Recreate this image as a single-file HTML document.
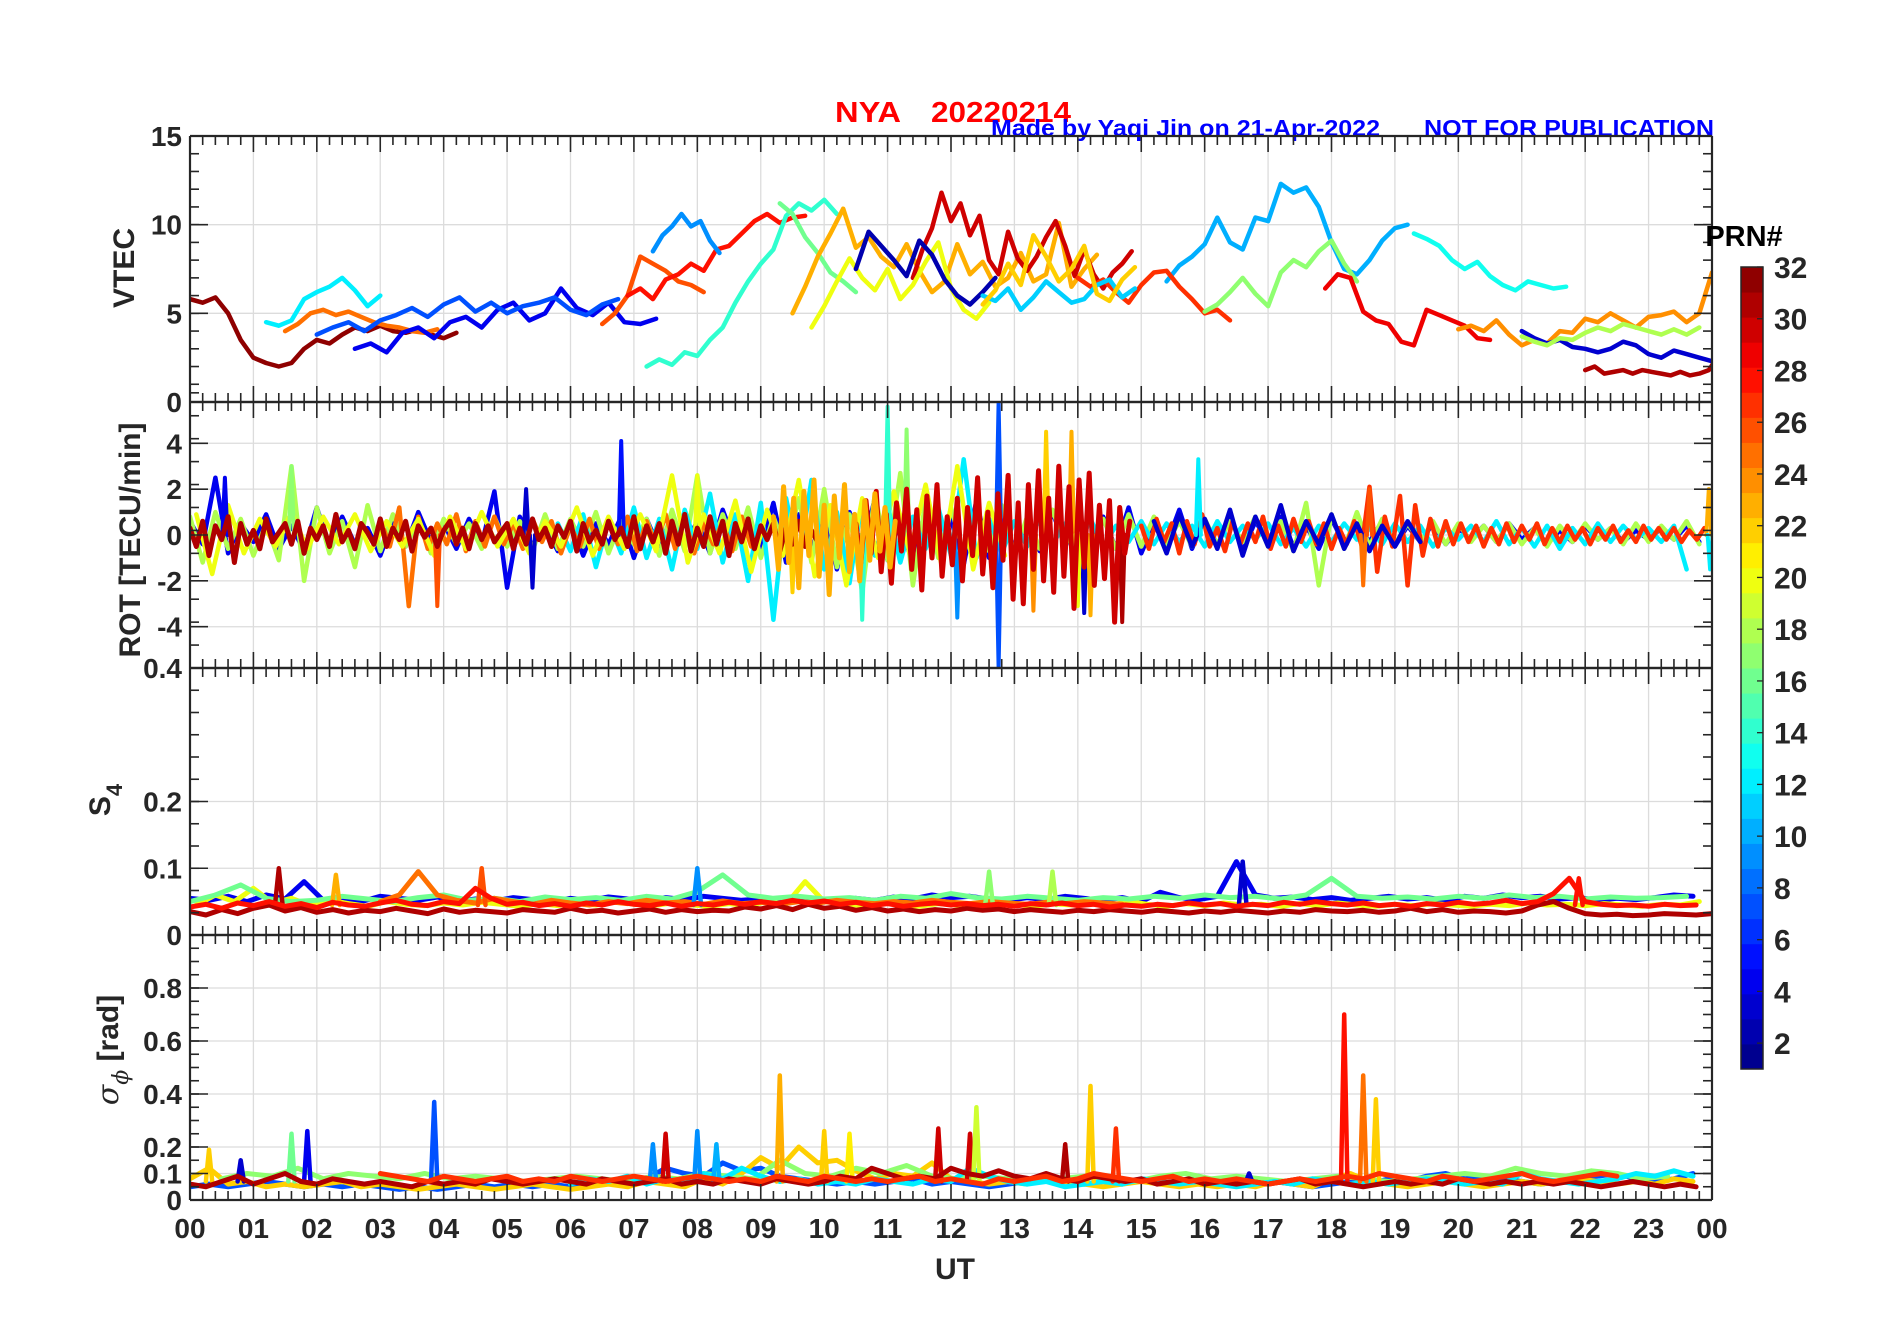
<!DOCTYPE html>
<html><head><meta charset="utf-8"><style>
html,body{margin:0;padding:0;background:#fff;}
svg{display:block;font-family:"Liberation Sans",Arial,sans-serif;}
</style></head><body>
<svg id="fig" width="1902" height="1330" viewBox="0 0 1902 1330" xmlns="http://www.w3.org/2000/svg">
<rect width="1902" height="1330" fill="#fff"/>
<text x="835" y="122" fill="#ff0000" font-size="29" font-weight="bold" textLength="66" lengthAdjust="spacingAndGlyphs">NYA</text>
<text x="931" y="122" fill="#ff0000" font-size="29" font-weight="bold" textLength="140" lengthAdjust="spacingAndGlyphs">20220214</text>
<text x="991" y="136" fill="#0000ff" font-size="23" font-weight="bold" textLength="389" lengthAdjust="spacingAndGlyphs">Made by Yaqi Jin on 21-Apr-2022</text>
<text x="1424" y="136" fill="#0000ff" font-size="23" font-weight="bold" textLength="290" lengthAdjust="spacingAndGlyphs">NOT FOR PUBLICATION</text>
<g id="plots"></g>
<text x="955" y="1279" font-size="30" font-weight="bold" fill="#262626" text-anchor="middle">UT</text>
<text x="1744" y="246" font-size="29" font-weight="bold" fill="#000" text-anchor="middle">PRN#</text>
<g id="cbar"></g>
</svg>
<script>
// ---------- DATA ----------
const hourLabels=["00","01","02","03","04","05","06","07","08","09","10","11","12","13","14","15","16","17","18","19","20","21","22","23","00"];
const prnTicks=[2,4,6,8,10,12,14,16,18,20,22,24,26,28,30,32];
const vtecPrn=[32,12,25,4,26,28,9,14,16,23,30,10,27,17,29,13,24,3,18,31,7,20,2,11,22];
const vtecStart=[0,1.2,1.5,2.6,6.5,6.9,7.3,7.2,9.3,9.5,11.4,15.4,14.0,16.0,17.9,19.3,20.0,21.0,21.0,22.0,2.0,9.8,10.5,12.5,12.5];
const vtecStep=[0.2,0.2,0.2,0.25,0.2,0.2,0.15,0.2,0.2,0.2,0.15,0.2,0.2,0.2,0.2,0.2,0.2,0.2,0.2,0.15,0.25,0.2,0.2,0.2,0.2];
const vtecVals=[
[5.8,5.6,5.9,5.0,3.5,2.5,2.2,2.0,2.2,3.0,3.5,3.3,3.8,4.2,4.0,4.3,4.0,3.9,4.1,3.8,3.6,3.9],
[4.5,4.3,4.6,5.8,6.2,6.5,7.0,6.3,5.4,6.0],
[4.0,4.4,5.0,5.2,4.9,5.1,4.8,4.5,4.3,4.2,4.0,3.9,4.1],
[3.0,3.3,2.8,3.9,4.2,3.6,4.5,4.8,4.2,5.2,5.6,4.6,5.0,6.4,5.3,4.9,5.6,4.5,4.4,4.7],
[4.4,5.0,6.0,8.2,7.8,7.4,6.8,6.6,6.2],
[6.0,6.4,5.8,6.9,7.2,7.8,7.4,8.6,8.8,9.5,10.2,10.6,10.1,10.4,10.5],
[8.5,9.4,9.9,10.6,9.9,10.2,9.1,8.4],
[2.0,2.4,2.1,2.8,2.6,3.5,4.2,5.6,6.8,7.8,8.6,10.5,11.2,10.8,11.4,10.6],
[11.2,10.6,9.3,8.4,7.3,6.8,6.2],
[5.0,6.5,8.2,9.5,10.9,8.7,9.3,8.2,7.6,8.9,7.4,6.2,6.8,8.9,7.2,7.9,6.5,7.0,8.4,6.8,7.2,10.1,6.5,7.5,8.3],
[7.0,8.6,9.8,11.8,10.2,11.2,9.4,10.5,8.0,7.2,9.6,8.1,7.4,8.2,9.3,10.2,8.8,7.1,8.6,7.2,6.4,7.3,7.8,8.5],
[6.8,7.7,8.2,8.9,10.4,9.0,8.6,10.4,10.2,12.3,11.8,12.1,11.0,9.0,7.5,7.2,8.0,9.1,9.8,10.0],
[7.0,6.5,6.9,6.2,5.6,6.6,7.3,7.4,6.5,5.8,5.0,5.2,4.6],
[5.1,5.5,6.2,7.0,6.1,5.4,7.3,8.0,7.6,8.5,9.1,7.8,6.8],
[6.4,7.2,7.0,5.1,4.6,4.4,3.4,3.2,5.2,4.9,4.6,4.3,3.6,3.5],
[9.5,9.2,8.8,8.0,7.5,7.9,7.1,6.6,6.3,6.8,6.6,6.4,6.5],
[4.1,4.3,4.0,4.6,3.8,3.2,3.5,3.3,4.0,3.9,4.7,4.5,5.0,4.6,4.2,4.8,4.9,5.1,4.5,5.0,7.3],
[4.0,3.6,3.3,3.5,3.1,3.0,2.8,3.0,3.4,3.2,2.7,2.5,2.9,2.7,2.5,2.3],
[3.7,3.4,3.2,3.6,3.5,3.9,4.2,4.0,4.4,4.2,4.0,3.8,4.1,3.8,4.2],
[1.8,2.0,1.6,1.7,1.8,1.6,1.8,1.7,1.6,1.5,1.7,1.5,1.6,1.8,2.6],
[3.8,4.2,4.5,4.0,4.6,4.9,5.3,4.8,5.5,5.9,5.1,5.6,5.0,5.4,5.6,5.9,5.2,4.9,5.5,5.8],
[4.2,5.4,6.8,8.1,7.0,6.3,7.5,5.8,6.6,7.9,9.0,6.4,5.2,4.7,5.6],
[7.5,9.6,8.8,8.0,7.1,9.1,8.3,6.9,6.0,5.5,6.2,7.0],
[6.0,5.7,6.4,5.2,5.9,6.8,6.2,5.6,5.8,6.6,6.9,5.9,6.4],
[5.5,6.3,7.8,6.6,9.4,8.2,6.8,7.5,8.8,6.1,5.7,6.9,7.6]
];
const rotPrn=[31,30,23,4,18,12,27,25,20,3];
const rotStart=[0,10.5,9.2,0,0,5.8,15,3,0.1,15.2];
const rotStep=[0.1,0.08,0.08,0.2,0.2,0.2,0.12,0.15,0.25,0.2];
const rotVals=[
[0.3,-0.5,0.6,-0.9,0.4,-0.2,0.8,-1.2,0.5,-0.4,0.2,-0.6,0.7,-0.3,0.1,0.5,-0.4,0.6,-0.8,0.3,-0.2,0.4,-0.5,0.9,-0.3,0.2,-0.6,0.5,0.1,-0.4,0.7,-0.5,0.3,-0.2,0.6,-0.7,0.4,-0.1,0.3,-0.5,0.2,0.6,-0.4,0.3,-0.6,0.5,-0.2,0.4,-0.3,0.1,0.5,-0.6,0.3,-0.4,0.7,-0.2,0.3,-0.5,0.4,-0.1,0.6,-0.7,0.5,-0.3,0.2,-0.4,0.6,-0.2,0.3,-0.5,0.8,-0.6,0.4,-0.3,0.5,-0.8,0.6,-0.4,0.9,-0.7,0.3,-0.5,0.8,-0.4,0.6,-0.9,0.5,-0.3,0.7,-0.6,0.4,-0.2,0.5,-0.7,0.3,-0.4,0.6,-0.5,0.2,-0.3],
[0.5,-1.2,1.5,-0.8,1.9,-1.6,0.9,-2.1,1.4,-0.7,2.0,-1.5,1.1,-2.4,1.7,-1.0,2.2,-1.8,0.8,-1.3,1.6,-2.0,1.2,-0.9,2.5,-1.7,1.0,-2.3,1.8,-1.1,2.6,-2.8,1.4,-3.0,2.2,-1.5,2.8,-2.0,1.6,-2.5,3.0,-1.8,2.1,-3.2,2.4,-1.4,2.7,-2.2,1.3,-1.9,1.5,-3.8,1.2,-0.8,0.6],
[0.8,-1.5,2.1,-1.2,1.6,-2.3,1.9,-0.9,2.4,-1.8,1.3,-2.6,1.7,-1.0,2.2,-1.6,0.9,-2.0,1.5,-1.1,1.8,-0.7,1.2,-1.4,0.6],
[0.6,-0.4,2.5,-0.8,0.5,-0.3,0.9,-0.6,0.4,-0.7,1.2,-0.5,0.8,-0.4,0.3,-0.9,0.6,-0.5,1.0,-0.3,0.5,-0.6,0.7,-0.4,1.9,-2.3,0.8,-0.5,0.4,-0.7,0.6,-0.9,0.5,-0.4,0.8,-1.0,0.7,-0.6,0.9,-0.5,0.6,-0.8,1.1,-0.4,0.7,-0.6,1.4,-1.2,0.9,-0.8,1.3,-1.5,1.0,-0.7,1.6,-1.1,0.8,-1.4,1.2,-0.9,0.7,-1.3,1.5,-1.0,0.8,-0.6,0.5,-0.7,1.0,-0.5,0.6,-0.4,0.8,-0.6,1.2,-0.8,0.5,-0.4,1.1,-0.6,0.7,-0.5,0.9,-0.7,0.6,-0.3,0.8,-0.5,0.4,-0.6,0.7,-0.4,0.5,-0.3,0.6,-0.5,0.4,-0.3,0.5,-0.4,0.3,-0.2,0.4,-0.3,0.5,-0.2,0.3,-0.4,0.2,-0.3,0.4,-0.2,0.3,-0.3,0.2,-0.2,0.3,-0.2,0.4,-0.3],
[0.8,-1.2,1.0,-0.6,0.7,-0.9,0.5,-1.1,3.0,-2.0,1.2,-0.8,0.6,-1.4,1.3,-0.7,0.9,-0.5,0.6,-0.8,0.7,-0.4,0.5,-0.6,0.8,-0.5,0.6,-0.7,0.9,-0.6,0.7,-0.5,1.0,-0.8,0.6,-0.4,0.7,-0.9,1.1,-0.7,2.6,-0.8,0.9,-0.6,1.2,-1.0,0.8,-0.7,1.6,-1.2,2.0,-1.4,0.9,-2.5,1.8,-1.1,2.7,-2.2,1.5,-1.0,1.2,-0.8,0.9,-0.7,1.3,-0.9,0.8,-0.6,1.1,-0.5,1.0,-0.9,0.7,-0.6,0.9,-0.5,0.8,-0.4,0.6,-0.5,0.7,-0.4,0.6,-0.3,0.8,-0.5,0.6,-0.7,1.4,-2.2,0.9,-0.6,1.0,-0.5,0.7,-0.4,0.5,-0.3,0.6,-0.4,0.5,-0.3,0.4,-0.3,0.5,-0.4,0.3,-0.5,0.4,-0.3,0.5,-0.2,0.3,-0.4,0.5,-0.3,0.4,-0.2,0.6,-0.4],
[0.5,-0.7,0.9,-1.4,0.6,-0.8,1.2,-1.0,0.7,-1.5,1.1,-0.6,1.8,-1.2,0.9,-2.0,1.4,-3.7,1.6,-1.1,2.4,-1.5,1.0,-2.1,1.5,-0.9,1.3,-1.2,0.8,-0.6,1.2,-0.9,3.3,-1.0,0.7,-0.8,0.6,-0.5,0.8,-0.4,0.5,-0.6,0.7,-0.5,0.4,-0.3,0.6,-0.4,0.5,-0.3,0.4,-0.5,0.6,-0.3,0.4,-0.2,0.5,-0.4,0.3,-0.5,0.4,-0.3,0.5,-0.2,0.3,-0.4,0.5,-0.3,0.4,-0.5,0.3,-0.2,0.4,-0.3,0.6,-0.4,0.3,-0.5,0.4,-0.6,0.3,-0.4,0.5,-0.3,0.4,-0.2,0.3,-0.3,0.4,-1.5],
[0.4,-0.6,0.7,-0.3,0.5,-0.8,0.6,-0.4,0.9,-0.5,0.3,-0.7,0.6,-0.4,0.5,-0.3,0.8,-0.6,0.4,-0.5,0.7,-0.3,0.6,-0.4,0.5,-0.6,0.3,-0.4,0.6,-0.5,2.1,-1.6,0.8,-0.5,1.7,-2.2,1.3,-0.9,0.7,-0.5,0.6,-0.4,0.5,-0.3,0.4,-0.5,0.3,-0.4,0.5,-0.3,0.4,-0.2,0.5,-0.4,0.3,-0.3,0.4,-0.2,0.3,-0.4,0.3,-0.2,0.4,-0.3,0.2,-0.3,0.4,-0.2,0.3,-0.2,0.3,-0.3,0.2,-0.2,0.3],
[0.7,-0.5,1.2,-3.1,0.8,-0.6,0.5,-0.4,0.9,-0.7,0.6,-0.5,0.8,-0.4,0.5,-0.6,0.7,-0.3,0.6,-0.8,0.4,-0.5,0.7,-0.6,0.5,-0.4,0.8,-0.7,0.6,-0.5,0.9,-0.6,0.7,-0.8,0.5,-0.4,0.6,-0.7,0.8,-0.5],
[0.9,-1.7,1.3,-0.8,0.7,-0.5,1.0,-0.6,0.8,-0.4,0.9,-0.7,0.6,-0.5,0.7,-0.9,0.8,-0.6,1.0,-0.5,0.7,-0.8,0.6,-0.5,1.2,-0.9,0.8,-0.6,0.9,-0.7,2.6,-1.2,0.9,-0.8,1.5,-1.6,1.1,-0.9,2.4,-1.8,1.3,-2.2,1.6,-1.0,1.9,-0.8,2.2,-1.3,3.0,-1.5,1.4,-0.9],
[0.6,-0.8,0.9,-0.5,0.7,-0.6,1.1,-0.9,0.8,-0.5,1.3,-0.7,0.6,-0.4,0.9,-0.6,0.5,-0.7,0.4,-0.5,0.6,-0.3]
];
const rotSpikeT=[0.55,1.6,3.9,5.3,5.4,6.8,11.0,11.3,12.75,12.75,13.5,13.9,14.1,14.2,14.7,15.9,18.5,18.6,23.95,23.97,10.6,8.0,9.5,12.1,13.3,14.0];
const rotSpikeV=[2.5,3.0,-3.1,2.0,-2.3,4.1,5.6,4.6,5.8,-5.8,4.5,4.5,-3.4,-3.5,-3.8,3.3,-2.2,2.0,2.0,-1.5,-3.7,2.6,-2.5,-3.6,-3.3,-3.1];
const rotSpikeP=[4,17,26,3,3,5,14,17,7,7,22,23,3,23,31,12,25,26,23,12,14,20,22,9,24,20];
const s4Prn=[31,28,4,20,16,25];
const s4Start=[0,0,0,0.1,0,3];
const s4Step=[0.25,0.25,0.3,0.3,0.4,0.3];
const s4Vals=[
[0.035,0.030,0.038,0.032,0.040,0.045,0.036,0.041,0.034,0.038,0.033,0.037,0.035,0.040,0.036,0.032,0.039,0.034,0.037,0.035,0.033,0.038,0.036,0.034,0.040,0.035,0.037,0.033,0.036,0.039,0.034,0.038,0.035,0.037,0.036,0.042,0.039,0.044,0.038,0.046,0.040,0.043,0.037,0.041,0.036,0.039,0.035,0.038,0.036,0.040,0.037,0.039,0.035,0.038,0.036,0.034,0.037,0.035,0.038,0.036,0.034,0.037,0.035,0.033,0.036,0.034,0.037,0.035,0.033,0.036,0.034,0.038,0.036,0.035,0.037,0.034,0.036,0.040,0.035,0.038,0.034,0.036,0.035,0.033,0.036,0.045,0.050,0.040,0.032,0.030,0.031,0.029,0.030,0.032,0.031,0.030,0.032],
[0.042,0.046,0.040,0.048,0.044,0.050,0.043,0.047,0.041,0.049,0.045,0.043,0.048,0.052,0.046,0.044,0.050,0.047,0.070,0.055,0.046,0.049,0.044,0.047,0.043,0.048,0.045,0.050,0.046,0.044,0.048,0.043,0.047,0.045,0.049,0.046,0.050,0.047,0.052,0.048,0.051,0.046,0.049,0.044,0.047,0.043,0.046,0.048,0.045,0.047,0.044,0.046,0.043,0.047,0.045,0.048,0.044,0.046,0.042,0.045,0.043,0.046,0.044,0.048,0.045,0.047,0.043,0.046,0.044,0.049,0.046,0.050,0.047,0.045,0.048,0.044,0.046,0.043,0.047,0.045,0.049,0.046,0.048,0.052,0.047,0.050,0.062,0.085,0.050,0.046,0.044,0.045,0.043,0.046,0.044,0.045],
[0.055,0.052,0.058,0.050,0.060,0.054,0.080,0.052,0.056,0.050,0.058,0.055,0.052,0.057,0.050,0.054,0.051,0.056,0.053,0.050,0.055,0.052,0.057,0.054,0.051,0.056,0.053,0.058,0.055,0.052,0.054,0.051,0.056,0.053,0.050,0.055,0.052,0.057,0.054,0.060,0.056,0.058,0.054,0.052,0.056,0.053,0.058,0.055,0.052,0.056,0.050,0.064,0.056,0.053,0.058,0.110,0.060,0.055,0.057,0.053,0.056,0.052,0.055,0.058,0.054,0.056,0.052,0.058,0.055,0.060,0.056,0.058,0.054,0.056,0.052,0.055,0.053,0.056,0.060,0.058],
[0.045,0.060,0.050,0.070,0.048,0.055,0.044,0.052,0.047,0.043,0.050,0.046,0.044,0.048,0.045,0.049,0.046,0.043,0.047,0.044,0.048,0.045,0.050,0.046,0.044,0.048,0.045,0.043,0.047,0.044,0.050,0.046,0.080,0.050,0.047,0.044,0.048,0.045,0.043,0.047,0.045,0.048,0.044,0.046,0.043,0.047,0.045,0.048,0.044,0.050,0.046,0.043,0.047,0.044,0.048,0.045,0.046,0.043,0.047,0.044,0.048,0.045,0.043,0.046,0.044,0.047,0.045,0.043,0.046,0.044,0.048,0.045,0.046,0.044,0.047,0.045,0.043,0.046,0.045,0.050],
[0.050,0.060,0.075,0.055,0.050,0.052,0.058,0.054,0.050,0.056,0.060,0.052,0.055,0.050,0.057,0.053,0.056,0.052,0.058,0.054,0.065,0.090,0.060,0.055,0.058,0.054,0.056,0.052,0.058,0.055,0.062,0.056,0.054,0.058,0.055,0.052,0.056,0.054,0.058,0.055,0.060,0.056,0.058,0.054,0.060,0.085,0.058,0.055,0.057,0.054,0.058,0.055,0.060,0.056,0.058,0.054,0.057,0.055,0.056,0.058],
[0.050,0.060,0.095,0.060,0.052,0.048,0.055,0.050,0.046,0.052,0.048,0.045,0.050,0.047,0.052,0.048,0.050,0.046,0.051,0.047,0.049,0.046,0.050,0.048,0.052,0.049,0.047,0.050,0.048,0.052,0.049,0.047,0.050,0.048,0.046,0.049,0.047,0.050,0.048,0.046]
];
const sigPrn=[31,27,7,22,17,12];
const sigStart=[0,3,0,0,0.5,6];
const sigStep=[0.25,0.25,0.3,0.3,0.4,0.3];
const sigVals=[
[0.06,0.05,0.07,0.09,0.06,0.08,0.10,0.07,0.06,0.08,0.07,0.06,0.07,0.06,0.05,0.07,0.06,0.07,0.06,0.08,0.07,0.06,0.07,0.08,0.07,0.06,0.08,0.07,0.06,0.07,0.08,0.06,0.07,0.06,0.08,0.07,0.06,0.08,0.07,0.06,0.07,0.09,0.08,0.12,0.10,0.08,0.09,0.08,0.12,0.10,0.09,0.11,0.09,0.08,0.10,0.08,0.07,0.09,0.08,0.07,0.08,0.06,0.07,0.08,0.06,0.07,0.06,0.07,0.06,0.07,0.08,0.06,0.07,0.06,0.05,0.06,0.07,0.06,0.07,0.06,0.08,0.07,0.06,0.07,0.06,0.07,0.06,0.07,0.06,0.05,0.06,0.07,0.06,0.05,0.06,0.05],
[0.10,0.09,0.08,0.07,0.09,0.08,0.07,0.08,0.09,0.07,0.08,0.07,0.09,0.08,0.07,0.08,0.09,0.08,0.07,0.08,0.09,0.08,0.07,0.08,0.07,0.09,0.08,0.07,0.09,0.08,0.07,0.08,0.07,0.08,0.09,0.07,0.08,0.07,0.06,0.08,0.07,0.08,0.09,0.07,0.08,0.10,0.09,0.08,0.07,0.08,0.09,0.07,0.08,0.07,0.08,0.07,0.06,0.07,0.08,0.07,0.08,0.09,0.08,0.10,0.09,0.08,0.07,0.09,0.08,0.07,0.08,0.09,0.10,0.08,0.07,0.08,0.09,0.10,0.09],
[0.05,0.06,0.05,0.06,0.07,0.06,0.05,0.06,0.05,0.06,0.05,0.04,0.05,0.04,0.05,0.06,0.05,0.06,0.05,0.06,0.05,0.06,0.07,0.06,0.08,0.12,0.10,0.09,0.14,0.11,0.12,0.09,0.08,0.07,0.06,0.07,0.06,0.07,0.08,0.06,0.07,0.06,0.05,0.06,0.07,0.08,0.07,0.06,0.07,0.06,0.08,0.07,0.06,0.09,0.07,0.08,0.06,0.07,0.06,0.05,0.06,0.07,0.06,0.08,0.07,0.09,0.10,0.08,0.09,0.08,0.07,0.06,0.07,0.08,0.09,0.10,0.08,0.07,0.08,0.10],
[0.08,0.12,0.06,0.07,0.05,0.06,0.05,0.06,0.07,0.05,0.06,0.05,0.04,0.05,0.06,0.05,0.04,0.05,0.06,0.05,0.04,0.05,0.06,0.05,0.07,0.06,0.05,0.08,0.06,0.10,0.16,0.12,0.20,0.14,0.15,0.11,0.08,0.10,0.09,0.14,0.08,0.07,0.06,0.07,0.06,0.08,0.07,0.06,0.05,0.06,0.07,0.06,0.05,0.06,0.05,0.06,0.05,0.07,0.06,0.05,0.08,0.10,0.07,0.06,0.05,0.06,0.07,0.06,0.05,0.06,0.07,0.06,0.07,0.08,0.07,0.06,0.07,0.06,0.08,0.07],
[0.08,0.10,0.09,0.12,0.08,0.10,0.09,0.08,0.10,0.08,0.09,0.08,0.07,0.08,0.09,0.08,0.07,0.09,0.08,0.10,0.09,0.08,0.15,0.10,0.09,0.12,0.10,0.13,0.09,0.08,0.09,0.08,0.07,0.08,0.09,0.08,0.07,0.09,0.10,0.08,0.09,0.08,0.07,0.08,0.09,0.08,0.07,0.08,0.09,0.10,0.09,0.12,0.10,0.09,0.11,0.10,0.08,0.09],
[0.06,0.08,0.07,0.09,0.06,0.08,0.07,0.10,0.08,0.12,0.09,0.07,0.08,0.06,0.07,0.06,0.08,0.07,0.06,0.08,0.07,0.12,0.09,0.07,0.06,0.07,0.05,0.06,0.07,0.06,0.08,0.07,0.06,0.07,0.06,0.05,0.06,0.07,0.06,0.08,0.07,0.06,0.07,0.06,0.07,0.08,0.07,0.06,0.07,0.06,0.10,0.08,0.07,0.06,0.07,0.08,0.10,0.09,0.11,0.09]
];
const sigSpikeT=[0.3,0.8,1.6,1.85,3.85,7.3,7.5,8.0,8.3,9.3,10.0,10.4,11.8,12.3,12.4,14.2,14.6,13.8,18.2,18.5,18.7,16.7];
const sigSpikeV=[0.19,0.15,0.25,0.26,0.37,0.21,0.25,0.26,0.21,0.47,0.26,0.25,0.27,0.25,0.35,0.43,0.27,0.21,0.70,0.47,0.38,0.10];
const sigSpikeP=[22,3,16,4,7,9,30,9,10,23,22,21,30,30,19,22,27,31,28,25,22,3];
const s4SpikeT=[1.4,2.3,4.6,8.0,12.6,13.6,16.6,21.9];
const s4SpikeV=[0.10,0.09,0.10,0.10,0.095,0.095,0.11,0.085];
const s4SpikeP=[31,23,26,9,17,18,3,28];

// ---------- LAYOUT ----------
const X0=190,X1=1712;
const panels=[
 {name:'vtec',top:136,bot:402,min:0,max:15,major:[0,5,10,15],labels:["0","5","10","15"],minorStep:1},
 {name:'rot',top:402,bot:668,min:-5.8,max:5.8,major:[-4,-2,0,2,4],labels:["-4","-2","0","2","4"],minorStep:1},
 {name:'s4',top:668,bot:935,min:0,max:0.4,major:[0,0.1,0.2],labels:["0","0.1","0.2"],minorStep:0.0333333,topLabel:"0.4"},
 {name:'sigma',top:935,bot:1200,min:0,max:1.0,major:[0,0.1,0.2,0.4,0.6,0.8],labels:["0","0.1","0.2","0.4","0.6","0.8"],minorStep:0.05}
];
const NS='http://www.w3.org/2000/svg';
function mk(tag,attrs,parent){const e=document.createElementNS(NS,tag);for(const k in attrs)e.setAttribute(k,attrs[k]);if(parent)parent.appendChild(e);return e;}
function xs(t){return X0+(X1-X0)*t/24;}
function ysF(p){return v=>p.bot-(p.bot-p.top)*(v-p.min)/(p.max-p.min);}
function jet(prn){
  let idx=Math.floor((prn-1)/31*32);if(idx>31)idx=31;if(idx<0)idx=0;
  const v=(idx+0.5)/32;
  const c=x=>Math.round(255*Math.max(0,Math.min(1,x)));
  return `rgb(${c(1.5-Math.abs(4*v-3))},${c(1.5-Math.abs(4*v-2))},${c(1.5-Math.abs(4*v-1))})`;
}
const root=document.getElementById('plots');
const defs=mk('defs',{},root);
panels.forEach((p,pi)=>{
  const g=mk('g',{},root);
  
  
  const cp=mk('clipPath',{id:'clip'+pi},defs);
  mk('rect',{x:X0,y:p.top,width:X1-X0,height:p.bot-p.top},cp);
  const ys=ysF(p);
  for(let h=1;h<24;h++){const gl=mk('line',{x1:xs(h),x2:xs(h),y1:p.top,y2:p.bot,stroke:'#dcdcdc','stroke-width':1.3},g);}
  p.major.forEach(v=>{const gl=mk('line',{x1:X0,x2:X1,y1:ys(v),y2:ys(v),stroke:'#dcdcdc','stroke-width':1.3},g);});
  const data=mk('g',{'clip-path':`url(#clip${pi})`,fill:'none','stroke-linejoin':'round','stroke-linecap':'round'},g);
  
  
  function series(prns,starts,steps,vals,w){
    prns.forEach((prn,i)=>{
      const pts=vals[i].map((v,j)=>xs(starts[i]+j*steps[i]).toFixed(1)+','+ys(v).toFixed(1)).join(' ');
      const pl=mk('polyline',{points:pts,stroke:jet(prn),'stroke-width':w},data);
      
      
    });
  }
  function spikes(T,V,P,w,base,half){
    T.forEach((t,i)=>{
      const b=ys(base);
      const pts=`${xs(t-half).toFixed(1)},${b} ${xs(t).toFixed(1)},${ys(V[i]).toFixed(1)} ${xs(t+half).toFixed(1)},${b}`;
      const pl=mk('polyline',{points:pts,stroke:jet(P[i]),'stroke-width':w},data);
      
      
    });
  }
  if(p.name==='vtec')series(vtecPrn,vtecStart,vtecStep,vtecVals,4.5);
  if(p.name==='rot'){series(rotPrn.slice(3),rotStart.slice(3),rotStep.slice(3),rotVals.slice(3),4.5);spikes(rotSpikeT,rotSpikeV,rotSpikeP,4,0,0.04);series(rotPrn.slice(0,3),rotStart.slice(0,3),rotStep.slice(0,3),rotVals.slice(0,3),5);}
  if(p.name==='s4'){series(s4Prn.slice(2),s4Start.slice(2),s4Step.slice(2),s4Vals.slice(2),5);spikes(s4SpikeT,s4SpikeV,s4SpikeP,4.5,0.045,0.06);series(s4Prn.slice(0,2),s4Start.slice(0,2),s4Step.slice(0,2),s4Vals.slice(0,2),5);}
  if(p.name==='sigma'){series(sigPrn.slice(2),sigStart.slice(2),sigStep.slice(2),sigVals.slice(2),5);spikes(sigSpikeT,sigSpikeV,sigSpikeP,4.5,0.07,0.05);series(sigPrn.slice(0,2),sigStart.slice(0,2),sigStep.slice(0,2),sigVals.slice(0,2),5);}
  const ax=mk('g',{stroke:'#262626','stroke-width':2.2},g);
  
  
  mk('line',{x1:X0,x2:X0,y1:p.top,y2:p.bot},ax);
  mk('line',{x1:X1,x2:X1,y1:p.top,y2:p.bot},ax);
  mk('line',{x1:X0,x2:X1,y1:p.top,y2:p.top},ax);
  mk('line',{x1:X0,x2:X1,y1:p.bot,y2:p.bot},ax);
  for(let k=0;k<=120;k++){const t=k/5,x=xs(t),L=(k%5===0)?16:9;
    mk('line',{x1:x,x2:x,y1:p.bot,y2:p.bot-L,'stroke-width':1.6},ax);
    mk('line',{x1:x,x2:x,y1:p.top,y2:p.top+L,'stroke-width':1.6},ax);}
  const n=Math.round((p.max-p.min)/p.minorStep);
  for(let k=0;k<=n;k++){const v=p.min+k*p.minorStep;const y=ys(v);
    mk('line',{x1:X0,x2:X0+9,y1:y,y2:y,'stroke-width':1.6},ax);
    mk('line',{x1:X1,x2:X1-9,y1:y,y2:y,'stroke-width':1.6},ax);}
  p.major.forEach(v=>{const y=ys(v);mk('line',{x1:X0,x2:X0+18,y1:y,y2:y,'stroke-width':1.6},ax);mk('line',{x1:X1,x2:X1-18,y1:y,y2:y,'stroke-width':1.6},ax);});
  p.major.forEach((v,i)=>{const tx=mk('text',{x:X0-8,y:ys(v)+10,'text-anchor':'end','font-size':28,'font-weight':'bold',fill:'#262626'},g);tx.textContent=p.labels[i];
    });
  if(p.topLabel){const tx=mk('text',{x:X0-8,y:p.top+10,'text-anchor':'end','font-size':28,'font-weight':'bold',fill:'#262626'},g);tx.textContent=p.topLabel;
    }
});
function ytitle(txt,x,y,name){const t=mk('text',{x:x,y:y,'text-anchor':'middle','font-size':30,'font-weight':'bold',fill:'#262626',transform:`rotate(-90 ${x} ${y})`},root);t.textContent=txt;return t;}
ytitle('VTEC',134,268,'vtec-axis-title');
ytitle('ROT [TECU/min]',140,540,'rot-axis-title');
{const t=mk('text',{x:110,y:800,'font-size':30,'font-weight':'bold',fill:'#262626',transform:'rotate(-90 110 800)','text-anchor':'middle'},root);
 
 t.innerHTML='S<tspan font-size="22" dy="12">4</tspan>';}
{const t=mk('text',{x:118,y:1050,'font-size':30,'font-weight':'bold',fill:'#262626',transform:'rotate(-90 118 1050)','text-anchor':'middle'},root);
 
 t.innerHTML='<tspan font-family="DejaVu Serif,serif" font-style="italic" font-weight="normal">σ</tspan><tspan font-size="22" dy="10" font-family="DejaVu Serif,serif" font-style="italic" font-weight="normal">ϕ</tspan><tspan dy="-10"> [rad]</tspan>';}
hourLabels.forEach((l,i)=>{const t=mk('text',{x:xs(i),y:1238,'text-anchor':'middle','font-size':28,'font-weight':'bold',fill:'#262626'},root);t.textContent=l;
  });
const cb=document.getElementById('cbar');
const CT=267,CB=1069,CX=1741,CW=22;
for(let i=0;i<32;i++){const h=(CB-CT)/32;const r=mk('rect',{x:CX,y:CB-(i+1)*h,width:CW,height:h+0.5,fill:jet(1+i*31/32+0.01)},cb);
  }
mk('rect',{x:CX,y:CT,width:CW,height:CB-CT,fill:'none',stroke:'#262626','stroke-width':1.5},cb);
prnTicks.forEach(k=>{const y=CB-(k-1)/31*(CB-CT);
  mk('line',{x1:CX+CW-6,x2:CX+CW,y1:y,y2:y,stroke:'#262626','stroke-width':1.3},cb);
  const t=mk('text',{x:CX+33,y:y+11,'font-size':30,'font-weight':'bold',fill:'#262626'},cb);t.textContent=k;
  });
</script>
</body></html>
